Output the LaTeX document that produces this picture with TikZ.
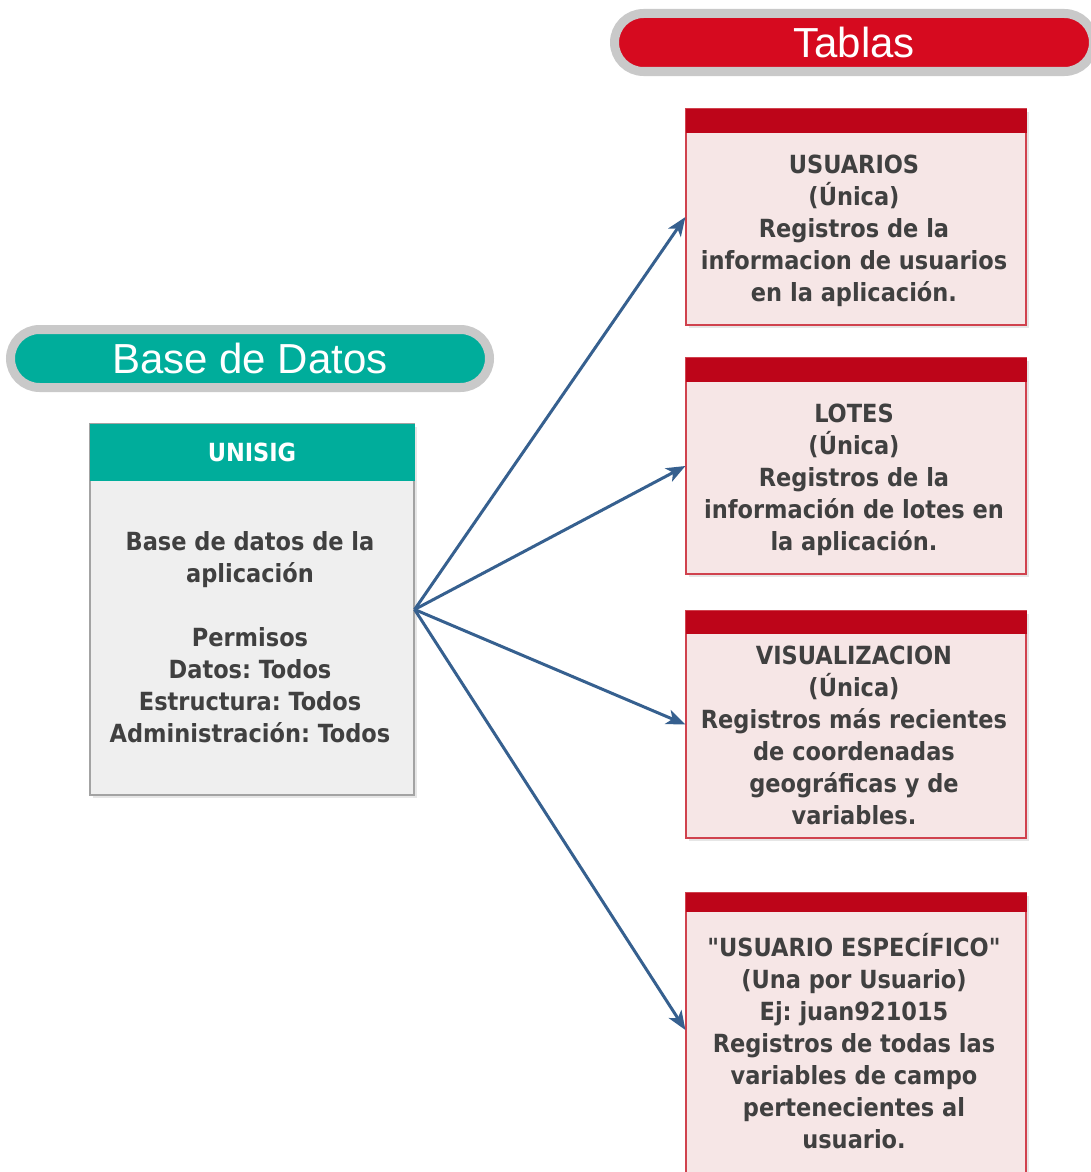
\documentclass[tikz,border=0pt]{standalone}
\usepackage{fontspec}
\setmainfont{DejaVu Sans Condensed}
\newfontfamily\bandafont{Liberation Sans}
\usetikzlibrary{arrows.meta,shadows}
\definecolor{verde}{HTML}{00AD9B}
\definecolor{rojo}{HTML}{D60A1F}
\definecolor{rojooscuro}{HTML}{BD0519}
\definecolor{rosa}{HTML}{F6E6E6}
\definecolor{rojoborde}{HTML}{D0424E}
\definecolor{grisfondo}{HTML}{EFEFEF}
\definecolor{grisborde}{HTML}{A3A3A3}
\definecolor{aro}{HTML}{C9C9C9}
\definecolor{azul}{HTML}{36608F}
\definecolor{texto}{HTML}{404040}
\frenchspacing
\begin{document}
\begin{tikzpicture}[x=1pt,y=-1pt,
  banda/.style={draw=aro, line width=9pt, rounded corners=29pt, minimum width=479pt,
    minimum height=58pt, text=white, font=\bandafont\fontsize{42}{42}\selectfont},
  tabla/.style={draw=rojoborde, line width=1.2pt, fill=rosa, minimum width=340pt,
    drop shadow={opacity=0.2, shadow xshift=3pt, shadow yshift=-3pt}},
  cabeza/.style={fill=rojooscuro, minimum width=341pt, inner sep=0pt},
  caja/.style={draw=grisborde, line width=1.2pt, fill=grisfondo, minimum width=324pt,
    drop shadow={opacity=0.2, shadow xshift=3pt, shadow yshift=-3pt}},
  texto/.style={align=center, text=texto, inner sep=0pt, font=\fontsize{25}{32}\selectfont\bfseries},
  flecha/.style={draw=azul, line width=3pt, -{Stealth[length=19pt, width=15pt, inset=5pt]}}
]
\useasboundingbox (0,0) rectangle (1090,1172);

\node [banda, fill=rojo] (tablas) at (854,42.5) {Tablas};
\node [banda, fill=verde] (basedatos) at (250,358.5) {Base de Datos};

\node [caja, minimum height=371pt] (unisig) at (252,609.5) {};
\node [fill=verde, minimum width=325pt, minimum height=57pt, inner sep=0pt, anchor=north,
  text=white, font=\fontsize{25}{25}\selectfont\bfseries] (unisighead) at (unisig.north) {UNISIG};
\node [texto] (unisigtxt) at (250,637) {Base de datos de la\\aplicación\\[32pt]
  Permisos\\Datos: Todos\\Estructura: Todos\\Administración: Todos};

\node [tabla, minimum height=216pt] (usuarios) at (856,217) {};
\node [cabeza, minimum height=24pt, anchor=north] (usuarioshead) at (usuarios.north) {};
\node [texto] (usuariostxt) at (854,231) {USUARIOS\\(Única)\\Registros de la\\
  informacion de usuarios\\en la aplicación.};

\node [tabla, minimum height=216pt] (lotes) at (856,466) {};
\node [cabeza, minimum height=24pt, anchor=north] (loteshead) at (lotes.north) {};
\node [texto] (lotestxt) at (854,480) {LOTES\\(Única)\\Registros de la\\
  información de lotes en\\la aplicación.};

\node [tabla, minimum height=227pt] (visual) at (856,724.5) {};
\node [cabeza, minimum height=23pt, anchor=north] (visualhead) at (visual.north) {};
\node [texto] (visualtxt) at (854,735) {VISUALIZACION\\(Única)\\Registros más recientes\\
  de coordenadas\\geográficas y de\\variables.};

\node [tabla, minimum height=287pt] (usuesp) at (856,1036.5) {};
\node [cabeza, minimum height=19pt, anchor=north] (usuesphead) at (usuesp.north) {};
\node [texto] (usuesptxt) at (854,1041) {\textquotedbl USUARIO ESPECÍFICO\textquotedbl\\(Una por Usuario)\\
  Ej: juan921015\\Registros de todas las\\variables de campo\\
  pertenecientes al\\usuario.};

\draw [flecha] (unisig.east) -- (usuarios.west);
\draw [flecha] (unisig.east) -- (lotes.west);
\draw [flecha] (unisig.east) -- (visual.west);
\draw [flecha] (unisig.east) -- ([yshift=6.5pt]usuesp.west);
\end{tikzpicture}
\end{document}
